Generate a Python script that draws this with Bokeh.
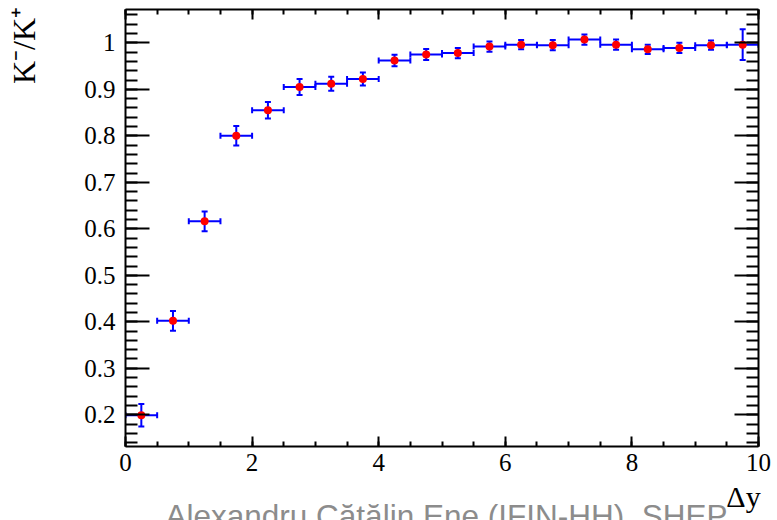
import math
from bokeh.plotting import figure
from bokeh.models import (ColumnDataSource, Whisker, TeeHead, LinearAxis, Range1d,
                          SingleIntervalTicker, CustomJSTickFormatter, Title)
from bokeh.embed import file_html
from bokeh.resources import INLINE

# ---- data ----
delta_y = [0.25, 0.75, 1.25, 1.75, 2.25, 2.75, 3.25, 3.75, 4.25, 4.75,
           5.25, 5.75, 6.25, 6.75, 7.25, 7.75, 8.25, 8.75, 9.25, 9.75]
delta_y_err = [0.25, 0.25, 0.25, 0.25, 0.25, 0.25, 0.25, 0.25, 0.25, 0.25,
               0.25, 0.25, 0.25, 0.25, 0.25, 0.25, 0.25, 0.25, 0.25, 0.25]
ratio = [0.199, 0.402, 0.616, 0.800, 0.855, 0.905, 0.912, 0.922, 0.962, 0.975,
         0.978, 0.992, 0.996, 0.995, 1.007, 0.996, 0.986, 0.989, 0.995, 0.996]
ratio_err = [0.024, 0.021, 0.021, 0.021, 0.018, 0.017, 0.015, 0.014, 0.0125, 0.012,
             0.011, 0.011, 0.010, 0.011, 0.011, 0.011, 0.010, 0.011, 0.010, 0.033]

x_title = "Δy"
y_title = "K⁻/K⁺"
footer = "Alexandru Cătălin Ene (IFIN-HH), SHEP"

SERIF = "Liberation Serif"
BLUE = "#0000ff"
RED = "#ff0000"
NBSP = "\u00a0"

src = ColumnDataSource(dict(
    x=delta_y, y=ratio,
    xlo=[a - b for a, b in zip(delta_y, delta_y_err)],
    xhi=[a + b for a, b in zip(delta_y, delta_y_err)],
    ylo=[a - b for a, b in zip(ratio, ratio_err)],
    yhi=[a + b for a, b in zip(ratio, ratio_err)],
))

p = figure(width=777, height=520, x_range=Range1d(0, 10), y_range=Range1d(0.1318, 1.0717),
           output_backend="svg", toolbar_location=None,
           min_border_left=125, min_border_right=19, min_border_top=9, min_border_bottom=74,
           background_fill_color="white", border_fill_color="white")
p.grid.visible = False
p.outline_line_color = None

xt = SingleIntervalTicker(interval=2, num_minor_ticks=4)
yt = SingleIntervalTicker(interval=0.1, num_minor_ticks=5)
yfmt = CustomJSTickFormatter(code="return String(Math.round(tick*10)/10);")
empty = CustomJSTickFormatter(code="return '';")


def style(ax, major, minor):
    ax.axis_line_width = 2
    ax.axis_line_color = "black"
    ax.major_tick_in = major
    ax.major_tick_out = 0
    ax.minor_tick_in = minor
    ax.minor_tick_out = 0
    ax.major_tick_line_width = 2
    ax.minor_tick_line_width = 2
    ax.major_tick_line_color = "black"
    ax.minor_tick_line_color = "black"
    ax.major_label_text_font = SERIF
    ax.major_label_text_font_size = "25px"
    ax.major_label_text_color = "black"
    ax.axis_label_text_font = SERIF
    ax.axis_label_text_font_style = "normal"
    ax.axis_label_text_color = "black"


def set_align(ax):
    for v in ("end", "right"):
        try:
            ax.axis_label_align = v
            break
        except Exception:
            pass


bx = p.xaxis[0]
bx.ticker = xt
style(bx, 10, 5)
bx.major_label_standoff = 7

ly = p.yaxis[0]
ly.ticker = yt
ly.formatter = yfmt
style(ly, 24, 12)
ly.major_label_standoff = 10

has_align = "axis_label_align" in ly.properties()

if has_align:
    # the label is centred on the axis end, so trailing no-break spaces push the
    # visible title back inside, ending at the axis end as in the reference
    ly.axis_label = y_title + NBSP * 9
    ly.axis_label_text_font_size = "32px"
    ly.axis_label_standoff = 39
    set_align(ly)
    bx.axis_label = x_title + NBSP * 4
    bx.axis_label_text_font_size = "30px"
    bx.axis_label_standoff = 6
    set_align(bx)
else:
    p.add_layout(Title(text=y_title, align="right", text_font=SERIF, text_font_size="32px",
                       text_font_style="normal", text_color="black", standoff=40), "left")
    p.add_layout(Title(text=x_title, align="right", text_font=SERIF, text_font_size="30px",
                       text_font_style="normal", text_color="black", standoff=0), "below")

p.add_layout(Title(text=footer, align="left", offset=40, vertical_align="top",
                   text_font="Liberation Sans", text_font_size="31.5px",
                   text_font_style="normal", text_color="#8c8c8c", standoff=-35), "below")

tx = LinearAxis(ticker=xt, formatter=empty)
style(tx, 10, 5)
tx.major_label_standoff = 0
tx.major_label_text_font_size = "1px"
p.add_layout(tx, "above")

ry = LinearAxis(ticker=yt, formatter=empty)
style(ry, 24, 12)
ry.major_label_standoff = 0
ry.major_label_text_font_size = "1px"
p.add_layout(ry, "right")

wy = Whisker(source=src, base="x", lower="ylo", upper="yhi", dimension="height",
             line_color=BLUE, line_width=2, level="underlay",
             upper_head=TeeHead(size=6, line_color=BLUE, line_width=2),
             lower_head=TeeHead(size=6, line_color=BLUE, line_width=2))
wx = Whisker(source=src, base="y", lower="xlo", upper="xhi", dimension="width",
             line_color=BLUE, line_width=2, level="underlay",
             upper_head=TeeHead(size=6, line_color=BLUE, line_width=2),
             lower_head=TeeHead(size=6, line_color=BLUE, line_width=2))
p.add_layout(wy)
p.add_layout(wx)

p.scatter("x", "y", source=src, size=8, fill_color=RED, line_color=None)

open("out.html", "w").write(file_html(p, INLINE))
